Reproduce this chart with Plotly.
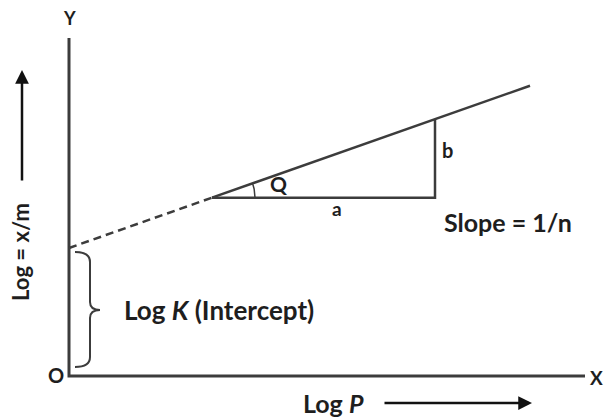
import numpy as np
import plotly.graph_objects as go

# Freundlich isotherm schematic (coordinates in diagram units, origin at O)
intercept = 128.0          # log K
slope = 0.352              # 1/n
x_dash_end = 143.0         # dashed extrapolation ends here
x_line_end = 461.0         # solid line end
x_tri_right = 366.0        # right edge of slope triangle
x_axis_len = 516.0
y_axis_len = 338.0

line_col = "#3c3c3c"
txt_col = "#1e1e1e"
font_fam = "Lato"

fig = go.Figure()

# axes
fig.add_trace(go.Scatter(x=[0, 0, x_axis_len], y=[y_axis_len, 0, 0], mode="lines",
                         line=dict(color=line_col, width=3), hoverinfo="skip"))

# dashed extrapolation
xd = np.array([0.0, x_dash_end])
fig.add_trace(go.Scatter(x=xd, y=intercept + slope * xd, mode="lines",
                         line=dict(color=line_col, width=2.5, dash="8px,5px"), hoverinfo="skip"))
# solid line
xs = np.array([x_dash_end, x_line_end])
fig.add_trace(go.Scatter(x=xs, y=intercept + slope * xs, mode="lines",
                         line=dict(color=line_col, width=2.5), hoverinfo="skip"))

# slope triangle
y0 = intercept + slope * x_dash_end
y1 = intercept + slope * x_tri_right
fig.add_trace(go.Scatter(x=[x_dash_end, x_tri_right, x_tri_right], y=[y0, y0, y1], mode="lines",
                         line=dict(color=line_col, width=2.5), hoverinfo="skip"))

# angle arc
ang = np.linspace(0, np.arctan(slope), 20)
r = 43
fig.add_trace(go.Scatter(x=x_dash_end + r * np.cos(ang), y=y0 + r * np.sin(ang), mode="lines",
                         line=dict(color=line_col, width=1.5), hoverinfo="skip"))

# curly brace for intercept (in diagram units)
def P(px, py):
    return f"{px-69},{376-py}"
brace = (f"M {P(75,252)} Q {P(90,252)} {P(90,262)} L {P(90,302)} Q {P(90,310)} {P(100,310)} "
         f"M {P(100,310)} Q {P(90,310)} {P(90,318)} L {P(90,357)} Q {P(90,367)} {P(75,367)}")
fig.add_shape(type="path", path=brace, xref="x", yref="y", line=dict(color=line_col, width=2))

def txt(x, y, s, size=17, angle=0, color=txt_col):
    fig.add_annotation(x=x, y=y, text=s, showarrow=False, textangle=angle,
                       font=dict(family=font_fam, size=size, color=color, weight="bold"),
                       xref="x", yref="y")

txt(0, 358, "Y", 18)
txt(527, -1, "X", 19)
txt(-13, 1, "O", 20)
txt(150, 66, "Log <i>K</i> (Intercept)", 26)
txt(439, 154, "Slope = 1/n", 25)
txt(378, 226, "b", 20)
txt(268, 168, "a", 19)
txt(209, 193, "Q", 21)
txt(264, -27, "Log <i>P</i>", 25)
txt(-49, 124, "Log = x/m", 22, angle=-90)

# arrows
fig.add_annotation(x=-47, y=306, ax=-47, ay=194, xref="x", yref="y", axref="x", ayref="y",
                   text="", showarrow=True, arrowhead=2, arrowsize=1.1, arrowwidth=2.5,
                   arrowcolor="#111")
fig.add_annotation(x=463, y=-27, ax=314, ay=-27, xref="x", yref="y", axref="x", ayref="y",
                   text="", showarrow=True, arrowhead=2, arrowsize=1.1, arrowwidth=2.5,
                   arrowcolor="#111")

fig.update_layout(
    width=604, height=409, autosize=False,
    margin=dict(l=0, r=0, t=0, b=0),
    paper_bgcolor="white", plot_bgcolor="white",
    showlegend=False,
    xaxis=dict(range=[-61, 543], visible=False, fixedrange=True),
    yaxis=dict(range=[-41, 368], visible=False, fixedrange=True),
)

fig.write_html("out.html")
